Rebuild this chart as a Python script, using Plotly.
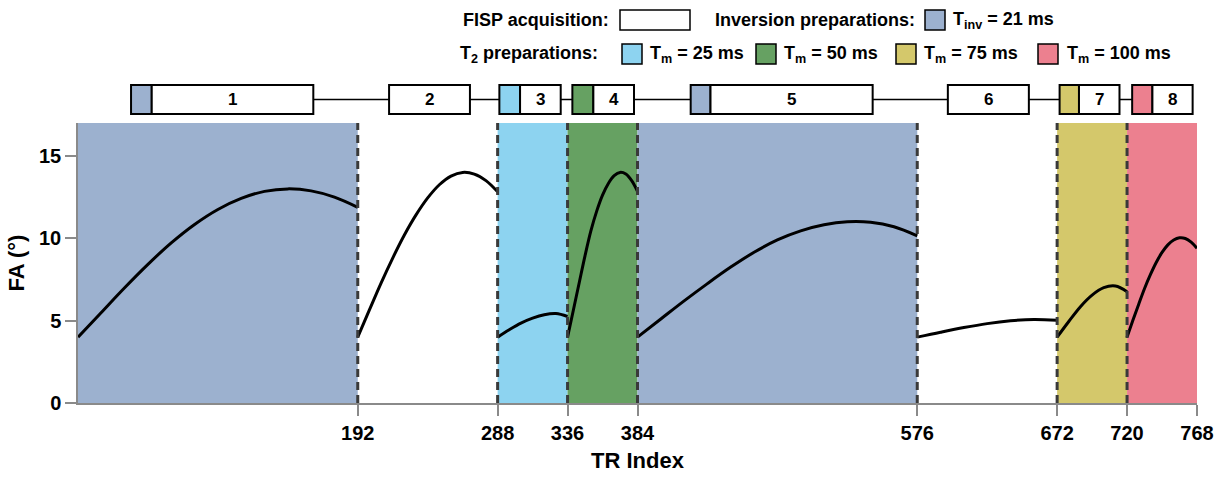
import plotly.graph_objects as go

# ---------------- data ----------------
seg1_tr = [0, 16, 32, 48, 64, 80, 96, 112, 128, 144, 160, 176, 192]
seg1_fa = [4.0, 5.5, 7.0, 8.42, 9.72, 10.84, 11.75, 12.42, 12.85, 13.0, 12.88, 12.5, 11.88]
seg2_tr = [192, 200, 208, 216, 224, 232, 240, 248, 256, 264, 272, 280, 288]
seg2_fa = [4.0, 5.65, 7.28, 8.8, 10.2, 11.42, 12.45, 13.25, 13.78, 14.0, 13.9, 13.5, 12.82]
seg3_tr = [288, 296, 304, 312, 320, 328, 336]
seg3_fa = [4.0, 4.45, 4.85, 5.15, 5.36, 5.43, 5.25]
seg4_tr = [336, 340, 344, 348, 352, 356, 360, 364, 368, 372, 376, 380, 384]
seg4_fa = [4.0, 5.65, 7.3, 8.95, 10.45, 11.65, 12.62, 13.33, 13.8, 14.0, 13.9, 13.5, 12.85]
seg5_tr = [384, 400, 416, 432, 448, 464, 480, 496, 512, 528, 544, 560, 576]
seg5_fa = [4.0, 5.1, 6.2, 7.25, 8.25, 9.15, 9.9, 10.45, 10.82, 11.0, 10.97, 10.7, 10.15]
seg6_tr = [576, 592, 608, 624, 640, 656, 672]
seg6_fa = [4.0, 4.3, 4.58, 4.82, 4.99, 5.07, 5.02]
seg7_tr = [672, 680, 688, 696, 704, 712, 720]
seg7_fa = [4.0, 4.95, 5.85, 6.55, 7.0, 7.1, 6.76]
seg8_tr = [720, 724, 728, 732, 736, 740, 744, 748, 752, 756, 760, 764, 768]
seg8_fa = [4.0, 5.02, 6.0, 6.95, 7.79, 8.53, 9.14, 9.6, 9.9, 10.03, 9.99, 9.77, 9.39]

band_edges = [0, 192, 288, 336, 384, 576, 672, 720, 768]
band_kinds = ["inv", "none", "t25", "t50", "inv", "none", "t75", "t100"]
boundaries = [192, 288, 336, 384, 576, 672, 720]
x_ticks = [192, 288, 336, 384, 576, 672, 720, 768]
y_ticks = [0, 5, 10, 15]

# schematic blocks: prep kind, prep start, acq start, acq end (TR-axis units)
block_labels = ["1", "2", "3", "4", "5", "6", "7", "8"]
block_prep = ["inv", None, "t25", "t50", "inv", None, "t75", "t100"]
block_prep_start = [36.4, None, 289.2, 339.3, 420.5, None, 673.7, 723.5]
block_acq_start = [50.6, 213.5, 303.4, 353.7, 434.1, 597.0, 687.0, 737.4]
block_acq_end = [161.5, 269.0, 331.3, 381.6, 545.4, 652.6, 714.8, 765.0]

colors = {
    "inv": "#9CB1CF",
    "t25": "#8DD3F0",
    "t50": "#66A162",
    "t75": "#D4C86B",
    "t100": "#EC808F",
    "none": "rgba(0,0,0,0)",
}

# ---------------- figure ----------------
W, H = 1225, 477
L, R, T, B = 78, 28, 123, 74
PW, PH = W - L - R, H - T - B


def px2x(px):
    return (px - L) / PW


def py2y(py):
    return (H - B - py) / PH


fig = go.Figure()
segs = [(seg1_tr, seg1_fa), (seg2_tr, seg2_fa), (seg3_tr, seg3_fa), (seg4_tr, seg4_fa),
        (seg5_tr, seg5_fa), (seg6_tr, seg6_fa), (seg7_tr, seg7_fa), (seg8_tr, seg8_fa)]
for xs, ys in segs:
    fig.add_trace(go.Scatter(x=xs, y=ys, mode="lines",
                             line=dict(color="black", width=3, shape="spline", smoothing=1.0),
                             showlegend=False, hoverinfo="skip"))

shapes = []
for i, k in enumerate(band_kinds):
    if k == "none":
        continue
    shapes.append(dict(type="rect", xref="x", yref="paper", x0=band_edges[i], x1=band_edges[i + 1],
                       y0=0, y1=1, fillcolor=colors[k], line=dict(width=0), layer="below"))
for b in boundaries:
    shapes.append(dict(type="line", xref="x", yref="paper", x0=b, x1=b, y0=0, y1=1,
                       line=dict(color="#3a3a3a", width=3, dash="8px,5px"), layer="above"))

# schematic at top
yb0, yb1 = py2y(114), py2y(85)
ymid = py2y(99.5)
shapes.append(dict(type="line", xref="x", yref="paper", x0=block_acq_end[0], x1=block_prep_start[-1],
                   y0=ymid, y1=ymid, line=dict(color="black", width=1.5)))
annotations = []
for i in range(len(block_labels)):
    if block_prep[i] is not None:
        shapes.append(dict(type="rect", xref="x", yref="paper", x0=block_prep_start[i], x1=block_acq_start[i],
                           y0=yb0, y1=yb1, fillcolor=colors[block_prep[i]], line=dict(color="black", width=2)))
    shapes.append(dict(type="rect", xref="x", yref="paper", x0=block_acq_start[i], x1=block_acq_end[i],
                       y0=yb0, y1=yb1, fillcolor="white", line=dict(color="black", width=2)))
    annotations.append(dict(x=(block_acq_start[i] + block_acq_end[i]) / 2, y=ymid, xref="x", yref="paper",
                            text=block_labels[i], showarrow=False, xanchor="center", yanchor="middle",
                            font=dict(size=17, color="black", weight="bold")))

# legend at top
leg_font = dict(size=18, color="black", weight="bold", family="Liberation Sans, Arial, sans-serif")


def leg_text(px, py, text, anchor="left"):
    annotations.append(dict(x=px2x(px), y=py2y(py), xref="paper", yref="paper", text=text, showarrow=False,
                            xanchor=anchor, yanchor="middle", font=leg_font))


def leg_box(px0, px1, py0, py1, color):
    shapes.append(dict(type="rect", xref="paper", yref="paper", x0=px2x(px0), x1=px2x(px1),
                       y0=py2y(py1), y1=py2y(py0), fillcolor=color, line=dict(color="black", width=1.5)))


r1, r2 = 20, 54
leg_text(611, r1, "FISP acquisition:", "right")
leg_box(620, 690, 10, 30, "white")
leg_text(917, r1, "Inversion preparations:", "right")
leg_box(925, 945, 10, 30, colors["inv"])
leg_text(951, r1, "T<sub>inv</sub> = 21 ms")
leg_text(600, r2, "T<sub>2</sub> preparations:", "right")
leg_box(622, 642, 44, 64, colors["t25"])
leg_text(648, r2, "T<sub>m</sub> = 25 ms")
leg_box(756, 776, 44, 64, colors["t50"])
leg_text(782, r2, "T<sub>m</sub> = 50 ms")
leg_box(896, 916, 44, 64, colors["t75"])
leg_text(922, r2, "T<sub>m</sub> = 75 ms")
leg_box(1038, 1058, 44, 64, colors["t100"])
leg_text(1065, r2, "T<sub>m</sub> = 100 ms")

axis_common = dict(showline=True, linecolor="#8a8a8a", linewidth=1.5, ticks="outside", ticklen=11,
                   tickwidth=1.5, tickcolor="#8a8a8a", showgrid=False, zeroline=False, automargin=False,
                   tickfont=dict(size=20, color="black", weight="bold"),
                   title_font=dict(size=22, color="black", weight="bold"))

fig.update_layout(
    width=W, height=H,
    margin=dict(l=L, r=R, t=T, b=B, pad=0),
    paper_bgcolor="white", plot_bgcolor="white",
    font=dict(family="Liberation Sans, Arial, sans-serif", color="black"),
    shapes=shapes, annotations=annotations, showlegend=False,
    xaxis=dict(range=[0, 768], tickvals=x_ticks, title=dict(text="TR Index", standoff=10), **axis_common),
    yaxis=dict(range=[0, 17], tickvals=y_ticks, title=dict(text="FA (°)", standoff=8), **axis_common),
)
fig.write_html("out.html", config={"displayModeBar": False},
               post_script="document.body.style.margin='0';document.body.style.padding='0';")
